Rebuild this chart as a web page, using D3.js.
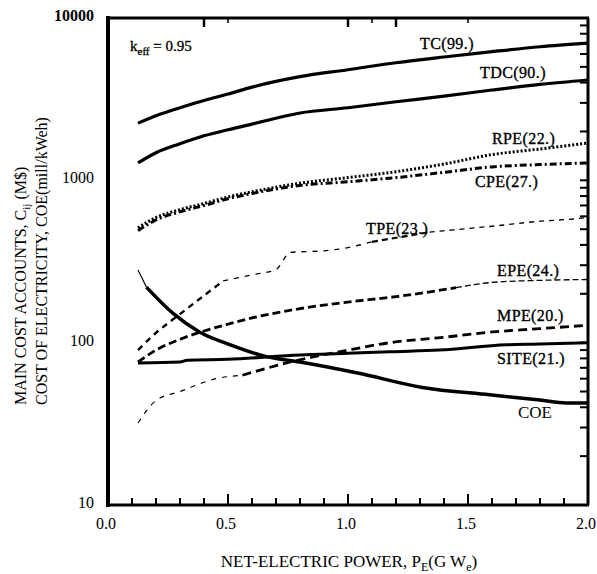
<!DOCTYPE html>
<html><head><meta charset="utf-8">
<script src="https://cdn.jsdelivr.net/npm/d3@7"></script>
<style>body{margin:0;background:#fff}</style>
</head><body>
<svg id="c" width="597" height="574"></svg>
<script>
// ---- data ----
const xTicks = [0.0, 0.5, 1.0, 1.5, 2.0];
const xTickLabels = ["0.0", "0.5", "1.0", "1.5", "2.0"];
const yTicks = [10, 100, 1000, 10000];
const yTickLabels = ["10", "100", "1000", "10000"];
const topTicks = [0.4, 0.5, 1.0, 1.1, 1.2, 1.5];

const xStd = [0.125, 0.2, 0.3, 0.4, 0.5, 0.6, 0.8, 1.0, 1.2, 1.4, 1.6, 1.8, 2.0];
const TC  = [2250, 2500, 2800, 3100, 3400, 3750, 4350, 4800, 5300, 5750, 6200, 6650, 7000];
const TDC = [1280, 1480, 1680, 1880, 2050, 2220, 2600, 2800, 3050, 3300, 3600, 3900, 4150];
const RPE = [510, 590, 660, 720, 790, 850, 960, 1040, 1130, 1260, 1440, 1560, 1700];
const CPE = [490, 570, 640, 700, 770, 830, 930, 980, 1040, 1120, 1210, 1250, 1280];

const xTPE = [0.125, 0.2, 0.3, 0.4, 0.48, 0.6, 0.7, 0.76, 0.9, 1.0, 1.1, 1.34, 1.5, 1.62, 1.8, 1.94, 2.0];
const TPE  = [90, 115, 150, 195, 240, 262, 282, 360, 368, 385, 418, 480, 505, 525, 560, 578, 590];

const xEPE = [0.125, 0.2, 0.3, 0.4, 0.5, 0.6, 0.8, 1.0, 1.2, 1.45, 1.6, 1.8, 2.0];
const EPE  = [76, 90, 105, 118, 130, 142, 162, 178, 192, 218, 235, 242, 245];

const xMPE = [0.125, 0.2, 0.3, 0.45, 0.56, 0.76, 1.0, 1.175, 1.4, 1.59, 1.8, 2.0];
const MPE  = [32, 44, 50, 60, 63, 76, 90, 100, 108, 116, 122, 128];

const xSITE = [0.125, 0.3, 0.33, 0.5, 0.8, 1.0, 1.175, 1.38, 1.66, 1.8, 2.0];
const SITE  = [75, 76, 78, 79, 84, 86, 88, 90, 97, 98, 100];

const xCOE = [0.125, 0.16, 0.27, 0.383, 0.51, 0.66, 0.8, 1.04, 1.31, 1.59, 1.8, 1.91, 2.0];
const COE  = [280, 220, 152, 116, 97, 82, 76, 65, 53, 47.7, 44.3, 42.5, 42.5];

// ---- chart ----
const svg = d3.select("#c");
const L = 108, R = 588, T = 18, B = 505;
const x = d3.scaleLinear().domain([0, 2]).range([L, R]);
const y = d3.scaleLog().domain([10, 10000]).range([B, T]);
const serif = "Liberation Serif";

// frame
svg.append("line").attr("x1", L).attr("x2", L).attr("y1", T - 2).attr("y2", B + 2).attr("stroke", "#000").attr("stroke-width", 4);
svg.append("line").attr("x1", L).attr("x2", R + 1).attr("y1", T).attr("y2", T).attr("stroke", "#000").attr("stroke-width", 3);
svg.append("line").attr("x1", L).attr("x2", R + 1).attr("y1", B).attr("y2", B).attr("stroke", "#000").attr("stroke-width", 3);
svg.append("line").attr("x1", R).attr("x2", R).attr("y1", T).attr("y2", B).attr("stroke", "#000").attr("stroke-width", 3);

// bottom ticks (inward)
const minorX = d3.range(1, 20).map(i => i / 10);
svg.append("g").selectAll("line").data(minorX).join("line")
  .attr("x1", d => x(d)).attr("x2", d => x(d))
  .attr("y1", B).attr("y2", d => B - (Math.abs(d * 2 - Math.round(d * 2)) < 1e-6 ? 11 : 7))
  .attr("stroke", "#000").attr("stroke-width", 2);
// top ticks
svg.append("g").selectAll("line").data(topTicks).join("line")
  .attr("x1", d => x(d)).attr("x2", d => x(d))
  .attr("y1", T).attr("y2", (d, i) => T + (i % 2 ? 5 : 9))
  .attr("stroke", "#000").attr("stroke-width", (d, i) => i % 2 ? 1.5 : 2.5);
// right ticks (inward), log minor
const rTicks = [];
[10, 100, 1000].forEach(dec => { for (let k = 2; k <= 9; k++) rTicks.push(dec * k); });
[100, 1000].forEach(v => rTicks.push(v));
svg.append("g").selectAll("line").data(rTicks).join("line")
  .attr("x1", R).attr("x2", R - 8)
  .attr("y1", d => y(d)).attr("y2", d => y(d))
  .attr("stroke", "#000").attr("stroke-width", 2);

// tick labels
svg.append("g").selectAll("text").data(xTicks).join("text")
  .attr("x", d => x(d) - 2).attr("y", B + 24)
  .attr("text-anchor", "middle").style("font-family", serif).attr("font-size", 16)
  .text((d, i) => xTickLabels[i]);
svg.append("g").selectAll("text").data(yTicks).join("text")
  .attr("x", 94).attr("y", d => y(d) + 3)
  .attr("text-anchor", "end").style("font-family", serif).attr("font-size", 16)
  .attr("font-weight", d => d === 10000 ? "bold" : "normal")
  .text((d, i) => yTickLabels[i]);

// axis titles
const xt = svg.append("text").attr("x", 349).attr("y", 567).attr("text-anchor", "middle")
  .style("font-family", serif).attr("font-size", 17);
xt.append("tspan").text("NET-ELECTRIC POWER,  P");
xt.append("tspan").attr("font-size", 12).attr("dy", 4).text("E");
xt.append("tspan").attr("dy", -4).text("(G W");
xt.append("tspan").attr("font-size", 12).attr("dy", 4).text("e");
xt.append("tspan").attr("dy", -4).text(")");

const yt1 = svg.append("text").attr("transform", "translate(26,405) rotate(-90)")
  .style("font-family", serif).attr("font-size", 16);
yt1.append("tspan").text("MAIN COST ACCOUNTS,  C");
yt1.append("tspan").attr("font-size", 11).attr("dy", 4).text("ij");
yt1.append("tspan").attr("dy", -4).text("  (M$)");
svg.append("text").attr("transform", "translate(47,405) rotate(-90)")
  .style("font-family", serif).attr("font-size", 16)
  .text("COST OF ELECTRICITY,  COE(mill/kWeh)");

// lines
const gen = (xs) => d3.line().x((d, i) => x(xs[i])).y(d => y(d)).curve(d3.curveMonotoneX);
const draw = (xs, vals, w, dash) => {
  svg.append("path").datum(vals).attr("d", gen(xs)).attr("fill", "none")
    .attr("stroke", "#000").attr("stroke-width", w)
    .attr("stroke-dasharray", dash || null).attr("stroke-linecap", "butt");
};
const drawPart = (xs, vals, a, b, w, dash) => draw(xs.slice(a, b), vals.slice(a, b), w, dash);

draw(xStd, TC, 3.2);
draw(xStd, TDC, 3.2);
draw(xStd, RPE, 3, "2,2");
draw(xStd, CPE, 3, "7,3,2,3");
// TPE: heavy dashes at first, faint broken remainder
drawPart(xTPE, TPE, 0, 5, 2.4, "6,5");
drawPart(xTPE, TPE, 4, 11, 1.3, "5,6");
drawPart(xTPE, TPE, 10, 12, 2.2, "6,4");
drawPart(xTPE, TPE, 11, 17, 1.3, "5,5");
// EPE
drawPart(xEPE, EPE, 0, 10, 2.8, "8,4");
drawPart(xEPE, EPE, 9, 13, 1.3, "6,3");
// MPE: faint start, heavy after
drawPart(xMPE, MPE, 0, 5, 1.2, "5,6");
drawPart(xMPE, MPE, 4, 12, 2.8, "9,5");
draw(xSITE, SITE, 3);
// COE: thin start, thick remainder
drawPart(xCOE, COE, 0, 2, 1.2);
drawPart(xCOE, COE, 1, 13, 3.5);

// labels
const lab = (txt, lx, ly, fs) => svg.append("text").attr("x", lx).attr("y", ly)
  .style("font-family", serif).attr("font-size", fs || 16).attr("letter-spacing", 0.4)
  .attr("stroke", "#000").attr("stroke-width", 0.35).text(txt);
lab("TC(99.)", 420, 49);
lab("TDC(90.)", 480, 78);
lab("RPE(22.)", 492, 144);
lab("CPE(27.)", 475, 187);
lab("TPE(23.)", 366, 234);
lab("EPE(24.)", 497, 276);
lab("MPE(20.)", 497, 321);
lab("SITE(21.)", 497, 364);
svg.append("text").attr("x", 518).attr("y", 418).style("font-family", serif)
  .attr("font-size", 17).text("COE");

const kt = svg.append("text").attr("x", 130).attr("y", 51).style("font-family", serif)
  .attr("font-size", 15).attr("stroke", "#000").attr("stroke-width", 0.3);
kt.append("tspan").text("k");
kt.append("tspan").attr("font-size", 11).attr("dy", 4).text("eff");
kt.append("tspan").attr("dy", -4).text(" = 0.95");
</script>
</body></html>
